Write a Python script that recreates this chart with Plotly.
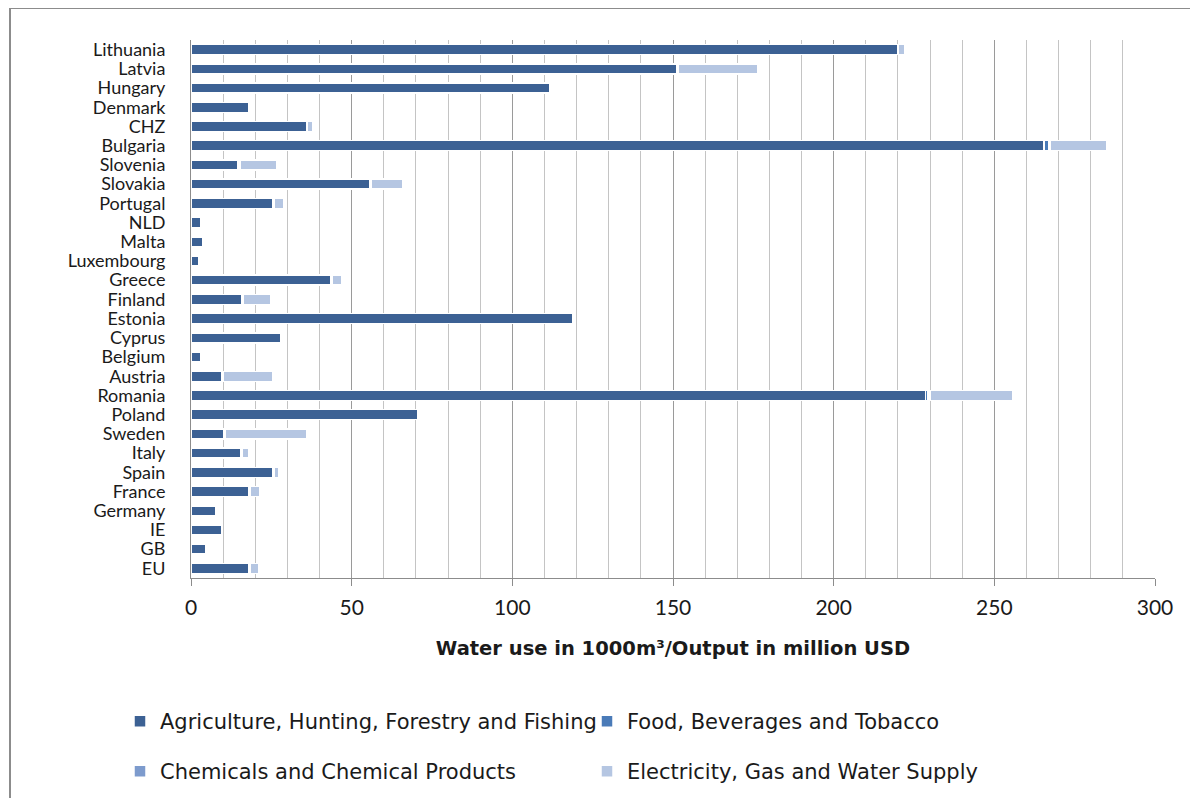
import plotly.graph_objects as go

countries = ["EU", "GB", "IE", "Germany", "France", "Spain", "Italy", "Sweden",
             "Poland", "Romania", "Austria", "Belgium", "Cyprus", "Estonia",
             "Finland", "Greece", "Luxembourg", "Malta", "NLD", "Portugal",
             "Slovakia", "Slovenia", "Bulgaria", "CHZ", "Denmark", "Hungary",
             "Latvia", "Lithuania"]

agriculture = [17.9, 4.7, 9.5, 7.8, 17.9, 25.5, 15.5, 10.2,
               70.6, 228.5, 9.6, 3.1, 27.9, 118.7,
               15.9, 43.5, 2.3, 3.6, 3.1, 25.5,
               55.5, 14.7, 265.5, 35.9, 17.9, 111.5,
               151.1, 219.8]
food = [0.2, 0.1, 0.1, 0.1, 0.3, 0.3, 0.2, 0.3,
        0.4, 0.8, 0.2, 0.1, 0.2, 0.2,
        0.3, 0.3, 0.1, 0.1, 0.1, 0.2,
        0.3, 0.3, 1.5, 0.2, 0.1, 0.2,
        0.3, 0.2]
chemicals = [0.2, 0.1, 0.1, 0.1, 0.2, 0.2, 0.1, 0.2,
             0.3, 0.7, 0.2, 0.1, 0.1, 0.1,
             0.2, 0.2, 0.1, 0.1, 0.1, 0.2,
             0.2, 0.2, 0.5, 0.1, 0.1, 0.1,
             0.2, 0.2]
electricity = [2.8, 0.0, 0.0, 0.0, 3.0, 1.4, 2.1, 25.2,
               0.0, 25.8, 15.5, 0.0, 0.0, 0.0,
               8.3, 2.9, 0.0, 0.0, 0.0, 3.0,
               9.9, 11.6, 17.5, 1.8, 0.0, 0.0,
               24.8, 1.8]

series_names = ["Agriculture, Hunting, Forestry and Fishing",
                "Food, Beverages and Tobacco",
                "Chemicals and Chemical Products",
                "Electricity, Gas and Water Supply"]
series_values = [agriculture, food, chemicals, electricity]
colors = ["#3C6194", "#4A7BB8", "#7D9BCD", "#B5C6E2"]
legend_ids = ["legend", "legend", "legend2", "legend2"]

tick_vals = [0, 50, 100, 150, 200, 250, 300]

FONT = "Lato"
WIDE = "DejaVu Sans"

fig = go.Figure()
for name, vals, col, lg in zip(series_names, series_values, colors, legend_ids):
    fig.add_trace(go.Bar(
        y=countries, x=vals, name=name, orientation="h",
        marker=dict(color=col, line=dict(color="white", width=1.5)),
        legend=lg,
    ))

# page offset of 8px (body margin)
OFF = 8
W, H = 1198 - 2 * OFF, 798 - OFF
L, T = 191 - OFF, 40 - OFF
pw, ph = 964, 538
R = W - L - pw
B = H - T - ph

def px_x(p):
    return (p - OFF - L) / pw

def px_y(p):
    return (T + ph - (p - OFF)) / ph

fig.update_layout(
    width=W, height=H,
    barmode="stack",
    bargap=0.48,
    plot_bgcolor="white",
    paper_bgcolor="white",
    margin=dict(l=L, r=R, t=T, b=B, autoexpand=False),
    font=dict(family=FONT, color="#1a1a1a"),
    xaxis=dict(
        range=[0, 300], tickvals=tick_vals, ticktext=[str(v) for v in tick_vals],
        showgrid=True, gridcolor="#9a9a9a", gridwidth=1,
        minor=dict(dtick=10, showgrid=True, gridcolor="#c4c4c4", gridwidth=1,
                   ticks=""),
        showline=True, linecolor="#8c8c8c", linewidth=1,
        ticks="outside", ticklen=7, tickcolor="#8c8c8c",
        ticklabelstandoff=4,
        tickfont=dict(size=21, family=FONT, color="#1a1a1a"),
        title=dict(text="<b>Water use in 1000m³/Output in million USD</b>",
                   font=dict(size=19.5, family=WIDE, color="#1a1a1a"),
                   standoff=23),
        zeroline=False, fixedrange=True,
    ),
    yaxis=dict(
        tickmode="array", tickvals=countries, ticktext=countries,
        showgrid=False, showline=True, linecolor="#8c8c8c", linewidth=1,
        ticks="", tickfont=dict(size=18, family=FONT, color="#1a1a1a"),
        ticklabelstandoff=21, fixedrange=True,
    ),
    legend=dict(
        orientation="h", x=px_x(120), y=px_y(701), xanchor="left", yanchor="top",
        entrywidth=422, font=dict(size=21, family=WIDE, color="#1a1a1a"),
        traceorder="normal", itemwidth=30,
    ),
    legend2=dict(
        orientation="h", x=px_x(120), y=px_y(751), xanchor="left", yanchor="top",
        entrywidth=422, font=dict(size=21, family=WIDE, color="#1a1a1a"),
        traceorder="normal", itemwidth=30,
    ),
    shapes=[
        dict(type="line", xref="paper", yref="paper",
             x0=px_x(10), x1=px_x(10), y0=px_y(8), y1=px_y(800),
             line=dict(color="#8c8c8c", width=2)),
        dict(type="line", xref="paper", yref="paper",
             x0=px_x(10), x1=px_x(1192), y0=px_y(8), y1=px_y(8),
             line=dict(color="#8c8c8c", width=2)),
        dict(type="line", xref="paper", yref="paper",
             x0=px_x(1192), x1=px_x(1192), y0=px_y(8), y1=px_y(800),
             line=dict(color="#8c8c8c", width=2)),
    ],
)

fig.write_html("out.html")
